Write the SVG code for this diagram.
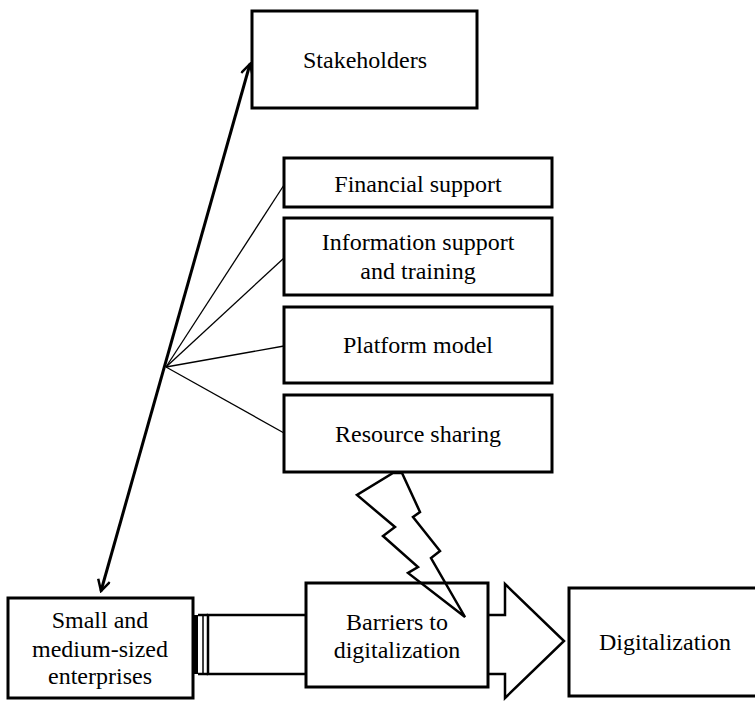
<svg xmlns="http://www.w3.org/2000/svg" width="755" height="701" viewBox="0 0 755 701">
<style>
.box{fill:#fff;stroke:#000;stroke-width:3}
.t{font-family:"Liberation Serif","Times New Roman",serif;font-size:24px;fill:#000;text-anchor:middle}
.fan{stroke:#000;stroke-width:1.3;fill:none}
</style>
<defs>
<marker id="open" viewBox="0 0 14 14" refX="12" refY="7" markerWidth="14" markerHeight="14" markerUnits="userSpaceOnUse" orient="auto-start-reverse">
<path d="M1,1 L12,7 L1,13" fill="none" stroke="#000" stroke-width="2.5"/>
</marker>
</defs>
<rect width="755" height="701" fill="#fff"/>
<g id="connectors">
<line class="fan" x1="166" y1="367" x2="284" y2="185"/>
<line class="fan" x1="166" y1="367" x2="284" y2="258"/>
<line class="fan" x1="166" y1="367" x2="284" y2="346"/>
<line class="fan" x1="166" y1="367" x2="284" y2="433"/>
<line x1="101" y1="591" x2="250" y2="64" stroke="#000" stroke-width="3" marker-start="url(#open)" marker-end="url(#open)"/>
<g id="block-arrow">
<polygon points="208,615 505,615 505,584 564,641 505,698 505,674 208,674" fill="#fff" stroke="#000" stroke-width="2.5"/>
<rect x="192" y="615" width="6" height="59" fill="#000"/>
<line x1="203" y1="615" x2="203" y2="674" stroke="#000" stroke-width="1.5"/>
<line x1="198" y1="615" x2="208" y2="615" stroke="#000" stroke-width="2.5"/>
<line x1="198" y1="674" x2="208" y2="674" stroke="#000" stroke-width="2.5"/>
</g>
</g>
<g id="stakeholders">
<rect class="box" x="252" y="11" width="225" height="97"/>
<text class="t" x="365" y="68">Stakeholders</text>
</g>
<g id="financial-support">
<rect class="box" x="284" y="158" width="268" height="49"/>
<text class="t" x="418" y="192">Financial support</text>
</g>
<g id="information-support">
<rect class="box" x="284" y="218" width="268" height="77"/>
<text class="t" x="418" y="250">Information support</text>
<text class="t" x="418" y="279">and training</text>
</g>
<g id="platform-model">
<rect class="box" x="284" y="307" width="268" height="76"/>
<text class="t" x="418" y="353">Platform model</text>
</g>
<g id="resource-sharing">
<rect class="box" x="284" y="395" width="268" height="77"/>
<text class="t" x="418" y="442">Resource sharing</text>
</g>
<g id="sme">
<rect class="box" x="8" y="598" width="185" height="100"/>
<text class="t" x="100" y="628">Small and</text>
<text class="t" x="100" y="657">medium-sized</text>
<text class="t" x="100" y="684">enterprises</text>
</g>
<g id="barriers">
<rect class="box" x="306" y="583" width="182" height="104"/>
<text class="t" x="397" y="630">Barriers to</text>
<text class="t" x="397" y="658">digitalization</text>
</g>
<g id="digitalization">
<rect class="box" x="569" y="588" width="190" height="108"/>
<text class="t" x="665" y="650">Digitalization</text>
</g>
<g id="lightning">
<polygon points="393,473 402,473 420,512 413,517 440,551 431,558 465,617 408,573 418,567 383,536 395,527 357,495" fill="none" stroke="#000" stroke-width="2.5" stroke-linejoin="miter"/>
</g>
</svg>
